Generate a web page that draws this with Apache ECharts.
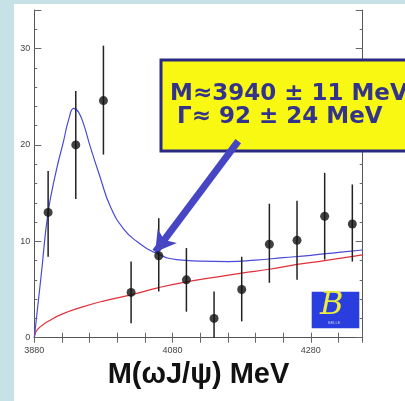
<!DOCTYPE html>
<html>
<head>
<meta charset="utf-8">
<script src="https://cdn.jsdelivr.net/npm/echarts@6/dist/echarts.min.js"></script>
<style>
html,body{margin:0;padding:0;background:#c6e2e6;}
#wrap{position:absolute;left:14px;top:4px;right:0;bottom:0;background:#ffffff;}
#chart{position:absolute;left:0;top:0;width:405px;height:401px;}
</style>
</head>
<body>
<div id="wrap"></div>
<div id="chart"></div>
<script>
// Data points (bin centres, counts, error bar low/high)
var massX   = [3900, 3940, 3980, 4020, 4060, 4100, 4140, 4180, 4220, 4260, 4300, 4340];
var counts  = [13.0, 20.0, 24.6, 4.7, 8.5, 6.0, 2.0, 5.0, 9.7, 10.1, 12.6, 11.8];
var errLow  = [8.4, 14.4, 19.0, 1.5, 4.8, 2.7, 0.0, 1.7, 5.7, 6.0, 8.1, 7.9];
var errHigh = [17.3, 25.6, 30.3, 7.9, 12.4, 9.3, 4.8, 8.4, 13.9, 14.2, 17.1, 15.9];

// Fit curve (signal + background)
var fitX = [3880, 3890, 3900, 3912, 3922, 3930, 3937, 3944, 3952, 3961, 3975, 3990, 4009, 4028, 4057, 4086, 4120, 4160, 4200, 4240, 4280, 4320, 4355];
var fitY = [0.0, 6.5, 13.0, 17.4, 20.3, 22.7, 23.8, 23.4, 22.0, 19.8, 16.7, 13.6, 11.3, 10.0, 8.75, 8.1, 7.95, 7.9, 8.05, 8.3, 8.55, 8.85, 9.1];

// Background curve
var bkgX = [3880, 3883, 3890, 3900, 3920, 3950, 3980, 4020, 4060, 4100, 4140, 4180, 4220, 4260, 4300, 4355];
var bkgY = [0.0, 0.7, 1.2, 1.7, 2.45, 3.2, 3.8, 4.45, 5.2, 5.8, 6.25, 6.7, 7.1, 7.6, 8.0, 8.6];

var xTickLabels = ['3880', '4080', '4280'];
var yTickLabels = ['0', '10', '20', '30'];

var axisTitle = 'M(\u03c9J/\u03c8) MeV';
var boxLine1 = 'M\u22483940 \u00b1 11 MeV';
var boxLine2 = '\u0393\u2248 92 \u00b1 24 MeV';
var arrowFrom = [4175, 20.4];
var arrowTo = [4055, 8.9];

function zip(a, b) { return a.map(function (v, i) { return [v, b[i]]; }); }

var chart = echarts.init(document.getElementById('chart'), null, {renderer: 'canvas'});

var frameColor = '#555';
var xBase = {
  type: 'value', min: 3880, max: 4355, interval: 40,
  splitLine: {show: false},
  axisLine: {show: true, lineStyle: {color: frameColor, width: 1}},
  axisTick: {show: true, inside: true, length: 5, lineStyle: {color: '#666'}}
};
var yBase = {
  type: 'value', min: 0, max: 34,
  splitLine: {show: false},
  axisLine: {show: true, lineStyle: {color: frameColor, width: 1}}
};

var option = {
  backgroundColor: 'transparent',
  animation: false,
  grid: {left: 34.3, right: 42.3, top: 10, bottom: 63.3},
  xAxis: [
    Object.assign({}, xBase, {
      position: 'bottom',
      axisLabel: {
        show: true, margin: 8, color: '#444', fontSize: 9, fontFamily: 'Liberation Sans',
        formatter: function (v) { var s = String(v); return xTickLabels.indexOf(s) >= 0 ? s : ''; }
      },
      name: axisTitle, nameLocation: 'middle', nameGap: 23,
      nameTextStyle: {fontSize: 29, fontWeight: 'bold', color: '#111', fontFamily: 'Liberation Sans'}
    }),
    Object.assign({}, xBase, {position: 'top', axisLabel: {show: false}})
  ],
  yAxis: [
    Object.assign({}, yBase, {
      position: 'left', interval: 2,
      axisTick: {show: true, inside: true, length: 3, lineStyle: {color: '#666'}},
      axisLabel: {
        show: true, margin: 4, color: '#444', fontSize: 9, fontFamily: 'Liberation Sans',
        formatter: function (v) { var s = String(v); return yTickLabels.indexOf(s) >= 0 ? s : ''; }
      }
    }),
    Object.assign({}, yBase, {
      position: 'left', interval: 10, axisLine: {show: false},
      axisTick: {show: true, inside: true, length: 7, lineStyle: {color: '#666'}},
      axisLabel: {show: false}
    }),
    Object.assign({}, yBase, {
      position: 'right', interval: 2,
      axisTick: {show: true, inside: true, length: 3, lineStyle: {color: '#666'}},
      axisLabel: {show: false}
    }),
    Object.assign({}, yBase, {
      position: 'right', interval: 10, axisLine: {show: false},
      axisTick: {show: true, inside: true, length: 7, lineStyle: {color: '#666'}},
      axisLabel: {show: false}
    })
  ],
  series: [
    {
      type: 'line', data: zip(bkgX, bkgY), smooth: 0.5, showSymbol: false,
      lineStyle: {color: '#e0303a', width: 1.2}, z: 2
    },
    {
      type: 'line', data: zip(fitX, fitY), smooth: 0.5, showSymbol: false,
      lineStyle: {color: '#4a4ad8', width: 1.2}, z: 3
    },
    {
      type: 'custom', z: 4,
      data: massX.map(function (x, i) { return [x, errLow[i], errHigh[i]]; }),
      renderItem: function (params, api) {
        var p1 = api.coord([api.value(0), api.value(1)]);
        var p2 = api.coord([api.value(0), api.value(2)]);
        return {
          type: 'line',
          shape: {x1: p1[0], y1: p1[1], x2: p2[0], y2: p2[1]},
          style: {stroke: '#222', lineWidth: 1.5}
        };
      }
    },
    {
      type: 'scatter', data: zip(massX, counts), symbol: 'circle', symbolSize: 9,
      itemStyle: {color: '#111'}, z: 5,
      markLine: {
        silent: true, symbol: ['none', 'arrow'], symbolSize: [18, 20],
        label: {show: false},
        lineStyle: {color: '#4646c4', width: 7, type: 'solid'},
        data: [[{coord: arrowFrom}, {coord: arrowTo}]]
      }
    }
  ],
  graphic: [
    {
      type: 'rect', z: 1,
      shape: {x: 161, y: 60, width: 260, height: 91},
      style: {fill: '#f8f812', stroke: '#2a2a84', lineWidth: 3}
    },
    {
      type: 'text', z: 1, left: 170, top: 83,
      style: {text: boxLine1, fill: '#33338e', font: 'bold 23px "DejaVu Sans"'}
    },
    {
      type: 'text', z: 1, left: 177, top: 106,
      style: {text: boxLine2, fill: '#33338e', font: 'bold 23px "DejaVu Sans"'}
    },
    {
      type: 'rect', z: 100,
      shape: {x: 311.7, y: 291.7, width: 47.6, height: 36.6},
      style: {fill: '#2a3ee0'}
    },
    {
      type: 'text', z: 101, left: 320, top: 290,
      style: {text: 'B', fill: '#ecec3c', font: 'italic 32px "DejaVu Serif"'}
    },
    {
      type: 'text', z: 101, left: 328, top: 321,
      style: {text: 'BELLE', fill: '#c8c8e8', font: '4px "Liberation Sans"'}
    }
  ]
};
chart.setOption(option);
</script>
</body>
</html>
